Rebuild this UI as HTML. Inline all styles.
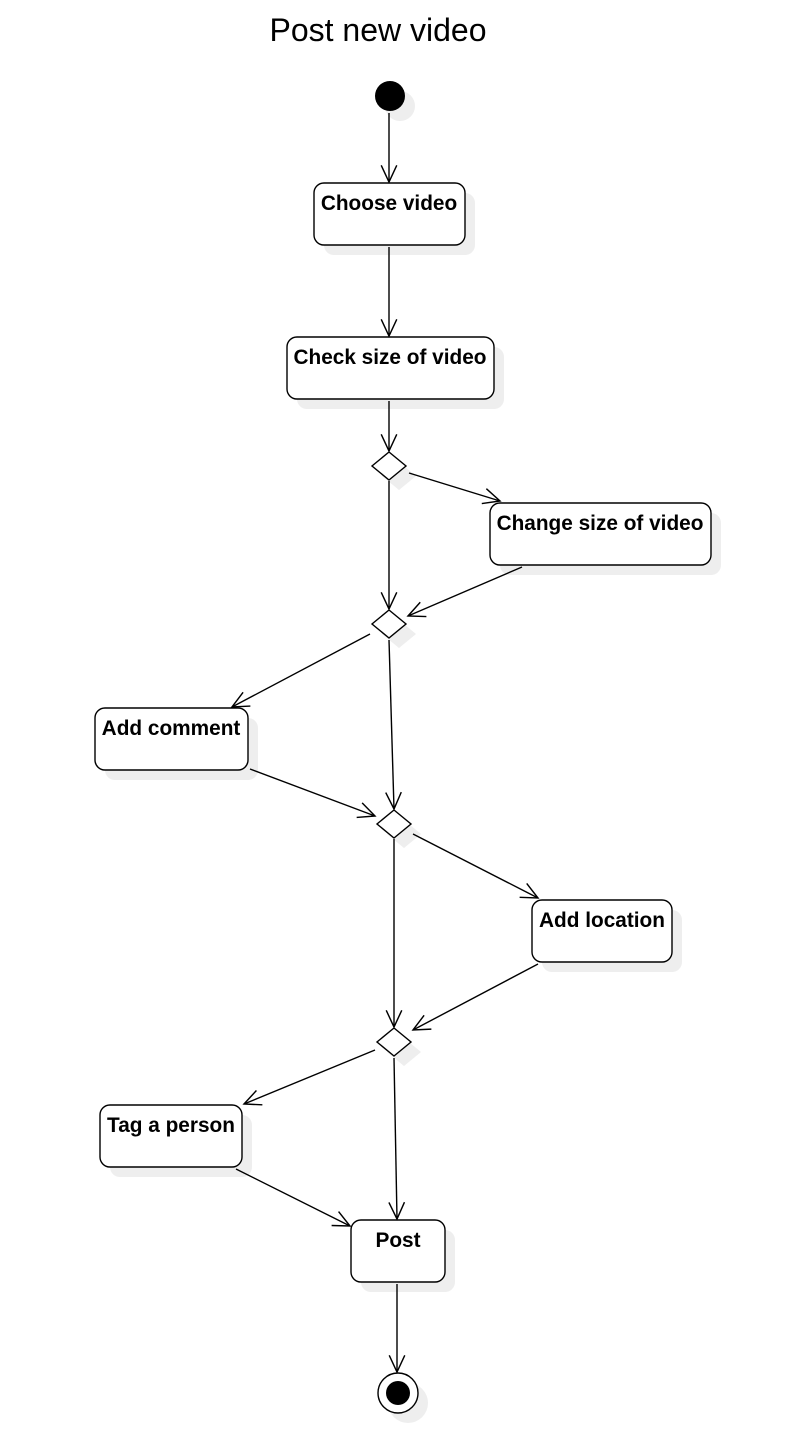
<!DOCTYPE html>
<html><head><meta charset="utf-8"><style>
html,body{margin:0;padding:0;background:#fff;width:804px;height:1432px;overflow:hidden}
svg{display:block}
text{font-family:"Liberation Sans",sans-serif}
.b{font-weight:bold;font-size:20.8px;text-anchor:middle}
</style></head><body>
<svg width="804" height="1432" viewBox="0 0 804 1432" xmlns="http://www.w3.org/2000/svg">
<defs>
<marker id="a" markerWidth="20" markerHeight="20" refX="0" refY="0" viewBox="-16 -8 18 16" orient="auto" markerUnits="userSpaceOnUse">
<path d="M-15,-7 L0,0 L-15,7" fill="none" stroke="#000" stroke-width="1.3"/>
</marker>
</defs>
<text x="378" y="41" font-size="32" text-anchor="middle">Post new video</text>
<g fill="#eeeeee">
<circle cx="400" cy="106" r="15"/>
<rect x="324" y="193" width="151" height="62" rx="10"/>
<rect x="297" y="347" width="207" height="62" rx="10"/>
<rect x="500" y="513" width="221" height="62" rx="10"/>
<rect x="105" y="718" width="153" height="62" rx="10"/>
<rect x="542" y="910" width="140" height="62" rx="10"/>
<rect x="110" y="1115" width="142" height="62" rx="10"/>
<rect x="361" y="1230" width="94" height="62" rx="10"/>
<path d="M399,462 L416,476 L399,490 L382,476Z"/>
<path d="M399,620 L416,634 L399,648 L382,634Z"/>
<path d="M404,820 L421,834 L404,848 L387,834Z"/>
<path d="M404,1038 L421,1052 L404,1066 L387,1052Z"/>
<circle cx="408" cy="1403" r="20"/>
</g>
<circle cx="390" cy="96" r="15" fill="#000"/>
<g fill="#fff" stroke="#000" stroke-width="1.4">
<rect x="314" y="183" width="151" height="62" rx="10"/>
<rect x="287" y="337" width="207" height="62" rx="10"/>
<rect x="490" y="503" width="221" height="62" rx="10"/>
<rect x="95" y="708" width="153" height="62" rx="10"/>
<rect x="532" y="900" width="140" height="62" rx="10"/>
<rect x="100" y="1105" width="142" height="62" rx="10"/>
<rect x="351" y="1220" width="94" height="62" rx="10"/>
<path d="M389,452 L406,466 L389,480 L372,466Z"/>
<path d="M389,610 L406,624 L389,638 L372,624Z"/>
<path d="M394,810 L411,824 L394,838 L377,824Z"/>
<path d="M394,1028 L411,1042 L394,1056 L377,1042Z"/>
<circle cx="398" cy="1393" r="20"/>
</g>
<circle cx="398" cy="1393" r="12" fill="#000"/>
<g class="b">
<text x="389" y="210">Choose video</text>
<text x="390" y="364">Check size of video</text>
<text x="600" y="530">Change size of video</text>
<text x="171" y="735">Add comment</text>
<text x="602" y="927">Add location</text>
<text x="171" y="1132">Tag a person</text>
<text x="398" y="1247">Post</text>
</g>
<g stroke="#000" stroke-width="1.4" fill="none" marker-end="url(#a)">
<line x1="389" y1="113" x2="389" y2="182"/>
<line x1="389" y1="247" x2="389" y2="336"/>
<line x1="389" y1="401" x2="389" y2="451"/>
<line x1="409" y1="473" x2="500" y2="501"/>
<line x1="389" y1="481" x2="389" y2="609"/>
<line x1="522" y1="567" x2="408" y2="616"/>
<line x1="370" y1="634" x2="232" y2="707"/>
<line x1="389" y1="640" x2="394" y2="809"/>
<line x1="250" y1="769" x2="375" y2="816"/>
<line x1="413" y1="834" x2="538" y2="898"/>
<line x1="394" y1="839" x2="394" y2="1027"/>
<line x1="538" y1="964" x2="413" y2="1030"/>
<line x1="375" y1="1050" x2="244" y2="1104"/>
<line x1="394" y1="1058" x2="397" y2="1219"/>
<line x1="236" y1="1169" x2="350" y2="1226"/>
<line x1="397" y1="1284" x2="397" y2="1372"/>
</g>
</svg>
</body></html>
